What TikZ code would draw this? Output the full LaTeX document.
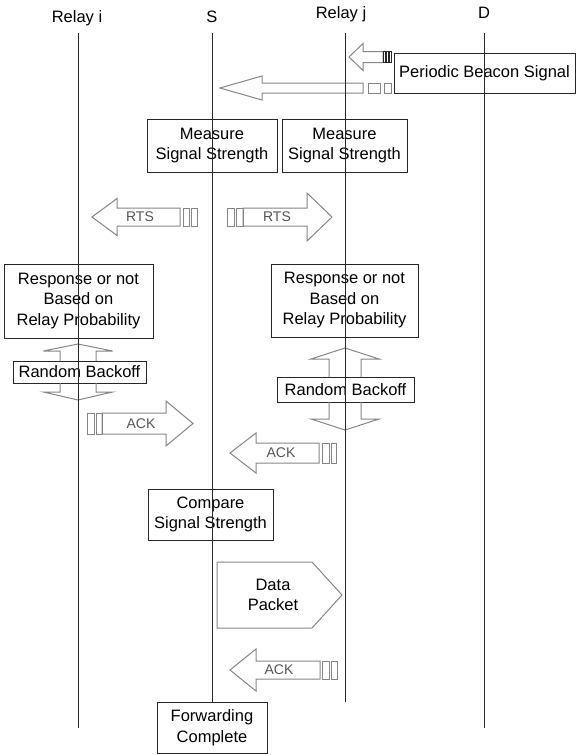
\documentclass[tikz,border=0pt]{standalone}
\usepackage{fontspec}
\setmainfont{Liberation Sans}
\definecolor{cdark}{HTML}{262626}
\definecolor{cgrey}{HTML}{858585}
\definecolor{ctxt}{HTML}{555555}
\tikzset{
  every picture/.style={x=1pt, y=-1pt, line width=1pt},
  box/.style={draw=cdark, align=center, inner sep=0pt, font=\fontsize{16.5}{20.5}\selectfont},
  head/.style={anchor=base, font=\fontsize{16.5}{20}\selectfont},
  msg/.style={font=\fontsize{14}{16}\selectfont, text=ctxt},
  life/.style={draw=cdark, line width=1pt},
  blk/.style={draw=cgrey, line width=1pt},
  pics/harrow/.style n args={4}{code={
    \draw[blk] (0,-#2) -- (#1,-#2) -- (#1,-#3) -- (#1+#4,0) -- (#1,#3) -- (#1,#2) -- (0,#2) -- cycle;}},
  pics/varrow/.style n args={4}{code={
    \draw[blk] (-#2,0) -- (-#2,-#1) -- (-#3,-#1) -- (0,-#1-#4) -- (#3,-#1) -- (#2,-#1) -- (#2,0);}},
}
\begin{document}
\begin{tikzpicture}
  \useasboundingbox (0,0) rectangle (576,755);
  % heads of the lifelines
  \node[head] (ri) at (77,22.5) {Relay i};
  \node[head] (s) at (212,22) {S};
  \node[head] (rj) at (341,18.5) {Relay j};
  \node[head] (d) at (484,18.5) {D};
  % beacon from D
  \node[box, minimum width=181pt, minimum height=40pt] (beacon) at (484.5,73) {Periodic Beacon Signal};
  \pic[xscale=-1] at (383,57) {harrow={20}{5.5}{13.5}{14}};
  \foreach \a in {383,386,389} \draw[draw=cdark] (\a,51.5) rectangle (\a+2,62.5);
  \pic[xscale=-1] at (363,88) {harrow={101}{5}{12}{42}};
  % measuring
  \node[box, minimum width=130pt, minimum height=53pt] (meas1) at (212,145.5) {Measure\\Signal Strength};
  \node[box, minimum width=125pt, minimum height=53pt] (meas2) at (344.5,145.5) {Measure\\Signal Strength};
  % RTS
  \pic[xscale=-1] at (180,217) {harrow={63}{9}{18.5}{25}};
  \pic at (243,217) {harrow={64}{9}{24}{25}};
  \node[msg] (rts1) at (140,217) {RTS};
  \node[msg] (rts2) at (277,217) {RTS};
  % relay answers
  \node[box, minimum width=149pt, minimum height=74pt] (resp1) at (78.5,301) {Response or not\\Based on\\Relay Probability};
  \node[box, minimum width=147pt, minimum height=73pt] (resp2) at (344.5,300.5) {Response or not\\Based on\\Relay Probability};
  \node[box, minimum width=133pt, minimum height=22pt] (back1) at (79.5,372) {Random Backoff};
  \node[box, minimum width=137pt, minimum height=25pt] (back2) at (345.5,389.5) {Random Backoff};
  \pic at (78,361) {varrow={10}{18}{34.5}{7}};
  \pic[yscale=-1] at (78,383) {varrow={9}{18}{34.5}{8}};
  \pic at (345,377) {varrow={18}{16}{34}{11}};
  \pic[yscale=-1] at (345,402) {varrow={17}{16}{34}{11}};
  % ACKs
  \pic at (102,423.5) {harrow={64}{10.5}{22.5}{27}};
  \pic[xscale=-1] at (319,453) {harrow={63}{10}{20}{26}};
  \pic[xscale=-1] at (320,670) {harrow={64}{9}{21}{26}};
  \node[msg] (ack1) at (141,423.5) {ACK};
  \node[msg] (ack2) at (281,453) {ACK};
  \node[msg] (ack3) at (279,670) {ACK};
  \foreach \a/\b/\y/\h in {368/380/88/5, 384/391/88/5, 183/189/217/9, 191/197/217/9,
      227/234/217/9, 236/243/217/9, 87/94/423.5/10.5, 96/102/423.5/10.5,
      322/329/453/10, 331/336/453/10, 322/329/670/9, 331/337/670/9}
    \draw[blk] (\a,\y-\h) rectangle (\b,\y+\h);
  % data forwarding
  \node[box, minimum width=125pt, minimum height=51pt] (cmp) at (210.5,514.5) {Compare\\Signal Strength};
  \draw[blk] (217,562) -- (312,562) -- (342,595) -- (312,628) -- (217,628) -- cycle;
  \node[box, draw=none] (data) at (273,595) {Data\\Packet};
  \node[box, minimum width=110pt, minimum height=51pt] (fwd) at (212,727.5) {Forwarding\\Complete};
  % lifelines
  \coordinate (riend) at (78,728);
  \coordinate (rjend) at (345,702);
  \coordinate (dend) at (484,728);
  \draw[life] (78,33) -- (riend);
  \draw[life] (212,33) -- (fwd.north);
  \draw[life] (345,33) -- (rjend);
  \draw[life] (484,33) -- (dend);
\end{tikzpicture}
\end{document}
